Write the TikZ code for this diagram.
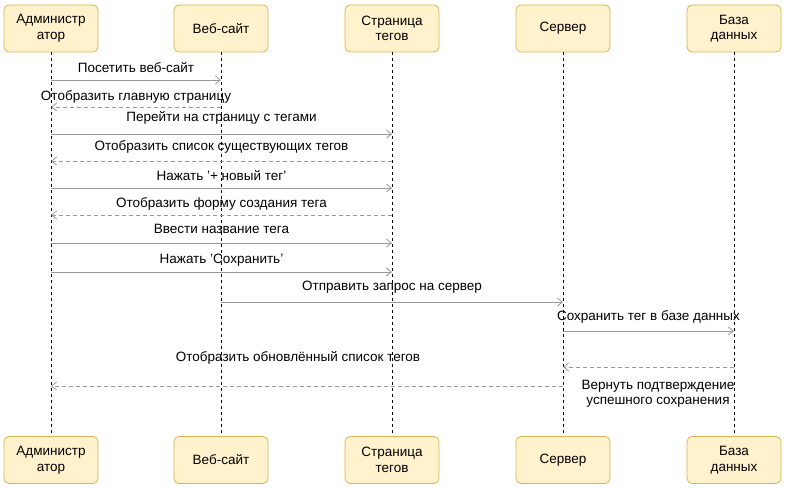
\documentclass[tikz,border=0pt]{standalone}
\usepackage{fontspec}
\setmainfont{Liberation Sans}
\usetikzlibrary{arrows.meta,calc}
\definecolor{fillY}{HTML}{FFF2CC}
\definecolor{strY}{HTML}{D6B656}
\definecolor{msg}{HTML}{999999}
\begin{document}
\begin{tikzpicture}[x=1pt,y=-1pt,
  actor/.style={draw=strY,fill=fillY,rounded corners=5pt,minimum width=94pt,minimum height=47pt,align=center,font=\fontsize{13.5}{15.5}\selectfont,line width=0.8pt},
  life/.style={black,dashed,line width=0.6pt},
  req/.style={msg,line width=0.8pt,-{Straight Barb[length=5pt,width=8pt]}},
  rep/.style={req,dash pattern=on 4pt off 3pt},
  lab/.style={font=\fontsize{13.5}{15.5}\selectfont,text=black,align=center,inner sep=1pt}]
\useasboundingbox (0,0) rectangle (786,487);
\foreach \n/\x/\t in {a/51/{Администр\\атор},w/221/{Веб-сайт},t/392/{Страница\\тегов},s/563/{Сервер},d/734/{База\\данных}}{
  \node[actor] (\n1) at (\x,28.5) {\t};
  \node[actor] (\n2) at (\x,460) {\t};
  \draw[life] (\n1) -- (\n2);
}
\foreach \y/\f/\g/\s/\l/\ly in {
 80/a/w/req/{Посетить веб-сайт}/68,
 107/w/a/rep/{Отобразить главную страницу}/97,
 134/a/t/req/{Перейти на страницу с тегами}/118,
 161/t/a/rep/{Отобразить список существующих тегов}/147,
 188/a/t/req/{Нажать '+ новый тег'}/176,
 215/t/a/rep/{Отобразить форму создания тега}/204,
 243/a/t/req/{Ввести название тега}/229,
 272/a/t/req/{Нажать 'Сохранить'}/260,
 302/w/s/req/{Отправить запрос на сервер}/287,
 331/s/d/req/{Сохранить тег в базе данных}/317}{
  \coordinate (p) at (\f1.center |- 0,\y);
  \coordinate (q) at (\g1.center |- 0,\y);
  \draw[\s] (p) -- (q);
  \node[lab] at ($(p)!0.5!(q)+(0,\ly-\y)$) {\l};
}
\coordinate (p) at (d1.center |- 0,367); \coordinate (q) at (s1.center |- 0,367);
\draw[rep] (p) -- (q);
\node[lab] at (658,394) {Вернуть подтверждение\\успешного сохранения};
\coordinate (p) at (s1.center |- 0,386); \coordinate (q) at (a1.center |- 0,386);
\draw[rep] (p) -- (q);
\node[lab] at (298,358) {Отобразить обновлённый список тегов};
\end{tikzpicture}
\end{document}
